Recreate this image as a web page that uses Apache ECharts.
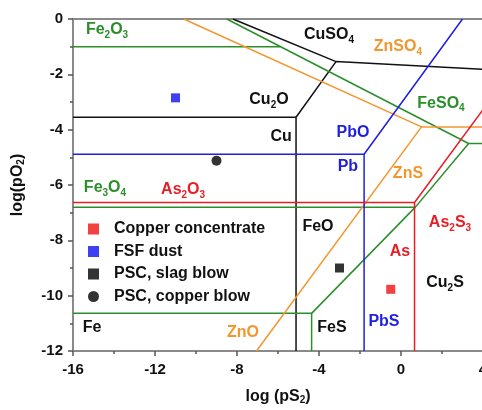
<!DOCTYPE html>
<html><head><meta charset="utf-8">
<script src="https://cdn.jsdelivr.net/npm/echarts@6/dist/echarts.min.js"></script>
<style>html,body{margin:0;padding:0;background:#fff}#c{width:482px;height:410px}</style>
</head><body><div id="c"></div>
<script>
// phase boundary lines: [log pS2, log pO2]
const cuso4Line = [[-8.2,0],[-3.17,-1.54]];
const cuBoundary = [[-5.12,-12],[-5.12,-3.55],[-3.17,-1.54],[4,-1.82]];
const cu2oCuLine = [[-16,-3.55],[-5.12,-3.55]];
const fe2o3Line = [[-16,-1],[-5.9,-1]];
const feso4Line = [[-8.5,0],[3.3,-4.5],[4,-4.5]];
const fe3o4Line = [[-16,-6.8],[0.7,-6.8]];
const fesLine = [[-4.36,-10.64],[0.7,-6.8],[3.3,-4.5]];
const feLine = [[-16,-10.64],[-4.36,-10.64],[-4.36,-12]];
const znso4Line = [[-10.6,0],[1.0,-3.9],[4,-3.9]];
const znsLine = [[-7.05,-12],[1.0,-3.9]];
const pbLine = [[-16,-4.89],[-1.8,-4.89],[3.0,0]];
const pbsLine = [[-1.8,-4.89],[-1.8,-12]];
const as2o3Line = [[-16,-6.63],[0.66,-6.63],[4,-3.28]];
const asLine = [[0.66,-6.63],[0.66,-12]];

// sample points
const copperConcentrate = [[-0.5,-9.77]];
const fsfDust = [[-11,-2.85]];
const pscSlagBlow = [[-3,-9]];
const pscCopperBlow = [[-9,-5.12]];

// region labels [text, log pS2, log pO2]
const blackLabels = [['CuSO{s|4}',-3.51,-0.58],['Cu{s|2}O',-6.44,-2.93],['Cu',-5.85,-4.26],['FeO',-4.05,-7.52],['Cu{s|2}S',2.15,-9.54],['FeS',-3.37,-11.17],['Fe',-15.07,-11.17]];
const greenLabels = [['Fe{s|2}O{s|3}',-14.34,-0.4],['FeSO{s|4}',1.95,-3.04],['Fe{s|3}O{s|4}',-14.44,-6.11]];
const orangeLabels = [['ZnSO{s|4}',-0.15,-1.01],['ZnS',0.34,-5.57],['ZnO',-7.71,-11.35]];
const blueLabels = [['PbO',-2.34,-4.12],['Pb',-2.59,-5.35],['PbS',-0.83,-10.95]];
const redLabels = [['As{s|2}O{s|3}',-10.63,-6.18],['As{s|2}S{s|3}',2.39,-7.37],['As',-0.05,-8.42]];

const C = {black:'#111111', green:'#2a8f2a', orange:'#f2962e', blue:'#1f1fe0', red:'#e61e26'};
const FONT = 'Liberation Sans, Arial, sans-serif';
const rich = {
  m:{fontSize:16, fontWeight:'bold', fontFamily:FONT, lineHeight:20},
  s:{fontSize:10, fontWeight:'bold', fontFamily:FONT, lineHeight:10, verticalAlign:'bottom'}
};
function wrapText(t){ return t.split(/(\{s\|[^}]*\})/).filter(x=>x).map(x=>x.startsWith('{s|')?x:'{m|'+x+'}').join(''); }

function lineSeries(data, color){
  return {type:'line', data:data, symbol:'none', showSymbol:false, silent:true,
    lineStyle:{color:color, width:1.5}, z:2, animation:false};
}
function labelSeries(list, color){
  return {type:'scatter', silent:true, symbolSize:0, itemStyle:{color:color, opacity:1}, z:3,
    data:list.map(d=>({value:[d[1],d[2]], name:d[0]})),
    label:{show:true, position:'inside', color:color, opacity:1, formatter:p=>wrapText(p.name),
      rich:{m:Object.assign({color:color},rich.m), s:Object.assign({color:color},rich.s)}},
    emphasis:{disabled:true},
    animation:false};
}

const chart = echarts.init(document.getElementById('c'), null, {renderer:'canvas'});
const axisLine = {show:true, onZero:false, lineStyle:{color:'#8a8a8a', width:2}};
const subRich = {s:{fontSize:10, fontWeight:'bold', fontFamily:FONT, lineHeight:10, verticalAlign:'bottom', color:'#111'}};
chart.setOption({
  animation:false,
  grid:{left:73, top:19, width:410, height:332, containLabel:false, outerBoundsMode:'none'},
  xAxis:[{type:'value', min:-16, max:4, interval:4, position:'bottom',
    name:'log (pS{s|2})', nameLocation:'middle', nameGap:38,
    nameTextStyle:{color:'#111', fontSize:16, fontWeight:'bold', fontFamily:FONT, rich:subRich},
    axisLine:axisLine, axisTick:{show:true, inside:false, length:5, lineStyle:{color:'#555', width:1.5}},
    minorTick:{show:true, splitNumber:2, length:3, lineStyle:{color:'#555', width:1.5}},
    axisLabel:{color:'#111', fontSize:15, fontWeight:'bold', fontFamily:FONT, margin:11, showMaxLabel:true},
    splitLine:{show:false}},
   {type:'value', min:-16, max:4, position:'top', axisLine:axisLine, axisTick:{show:false}, axisLabel:{show:false}, splitLine:{show:false}}],
  yAxis:[{type:'value', min:-12, max:0, interval:2, position:'left',
    name:'log(pO{s|2})', nameLocation:'middle', nameGap:47, nameRotate:90,
    nameTextStyle:{color:'#111', fontSize:16, fontWeight:'bold', fontFamily:FONT, rich:subRich},
    axisLine:axisLine, axisTick:{show:true, inside:false, length:5, lineStyle:{color:'#555', width:1.5}},
    minorTick:{show:true, splitNumber:2, length:3, lineStyle:{color:'#555', width:1.5}},
    axisLabel:{color:'#111', fontSize:15, fontWeight:'bold', fontFamily:FONT, margin:10},
    splitLine:{show:false}},
   {type:'value', min:-12, max:0, position:'right', axisLine:axisLine, axisTick:{show:false}, axisLabel:{show:false}, splitLine:{show:false}}],
  legend:{orient:'vertical', left:83, top:216, itemWidth:11, itemHeight:11, itemGap:6.5,
    data:['Copper concentrate','FSF dust','PSC, slag blow','PSC, copper blow'],
    textStyle:{color:'#111', fontSize:16, fontWeight:'bold', fontFamily:FONT, lineHeight:16, padding:[0,0,0,10]}},
  series:[
    lineSeries(cuso4Line, C.black), lineSeries(cuBoundary, C.black), lineSeries(cu2oCuLine, C.black),
    lineSeries(fe2o3Line, C.green), lineSeries(feso4Line, C.green), lineSeries(fe3o4Line, C.green),
    lineSeries(fesLine, C.green), lineSeries(feLine, C.green),
    lineSeries(znso4Line, C.orange), lineSeries(znsLine, C.orange),
    lineSeries(pbLine, C.blue), lineSeries(pbsLine, C.blue),
    lineSeries(as2o3Line, C.red), lineSeries(asLine, C.red),
    labelSeries(blackLabels, C.black), labelSeries(greenLabels, C.green), labelSeries(orangeLabels, C.orange),
    labelSeries(blueLabels, C.blue), labelSeries(redLabels, C.red),
    {name:'Copper concentrate', type:'scatter', symbol:'rect', symbolSize:9, data:copperConcentrate, itemStyle:{color:'#f01010'}, z:5},
    {name:'FSF dust', type:'scatter', symbol:'rect', symbolSize:9, data:fsfDust, itemStyle:{color:'#1010f0'}, z:5},
    {name:'PSC, slag blow', type:'scatter', symbol:'rect', symbolSize:9, data:pscSlagBlow, itemStyle:{color:'#000'}, z:5},
    {name:'PSC, copper blow', type:'scatter', symbol:'circle', symbolSize:10, data:pscCopperBlow, itemStyle:{color:'#000'}, z:5}
  ]
});
</script></body></html>
